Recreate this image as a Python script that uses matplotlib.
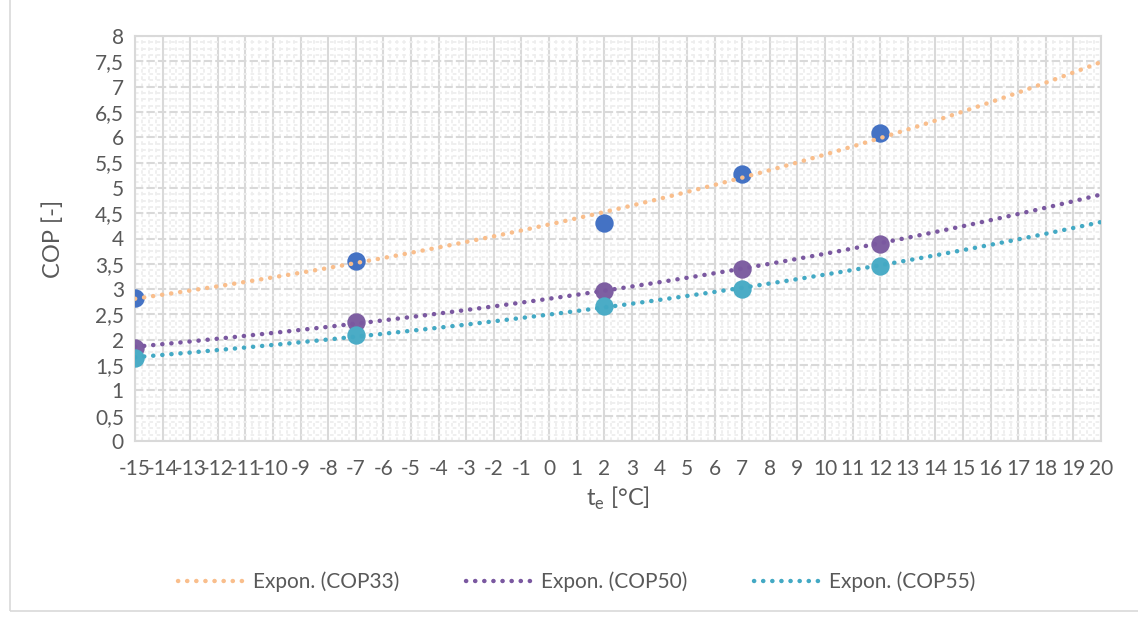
import numpy as np
import matplotlib
matplotlib.use('Agg')
import matplotlib.pyplot as plt
from matplotlib.ticker import MultipleLocator, FuncFormatter
from matplotlib.patches import Rectangle

plt.rcParams['font.family'] = ['Lato', 'DejaVu Sans']
plt.rcParams['axes.unicode_minus'] = False

# data
t_e = [-15, -7, 2, 7, 12]
cop33 = [2.83, 3.56, 4.30, 5.28, 6.08]
cop50 = [1.84, 2.36, 2.96, 3.40, 3.90]
cop55 = [1.63, 2.10, 2.66, 3.00, 3.46]
names = ['COP33', 'COP50', 'COP55']

point_cols = ['#4472C4', '#7E5FA2', '#4BACC6']
trend_cols = ['#F9BE8C', '#7A58A0', '#43A9C4']

fig = plt.figure(figsize=(11.38, 6.17), dpi=100)
ax = fig.add_axes([135/1138, 1-441/617, (1101-135)/1138, (441-36)/617])

xs = np.linspace(-15, 20, 200)
for ys, pc, tc, nm in zip([cop33, cop50, cop55], point_cols, trend_cols, names):
    ax.scatter(t_e, ys, s=175, color=pc, zorder=3, linewidths=0)
    # exponential trendline like excel: y = a*exp(b*x)
    b, ln_a = np.polyfit(t_e, np.log(ys), 1)
    ax.plot(xs, np.exp(ln_a) * np.exp(b * xs), color=tc, lw=3.2,
            linestyle=(0, (0.05, 2.0)), dash_capstyle='round', zorder=4,
            label='Expon. (' + nm + ')')

ax.set_xlim(-15, 20)
ax.set_ylim(0, 8)
ax.xaxis.set_major_locator(MultipleLocator(1))
ax.yaxis.set_major_locator(MultipleLocator(0.5))
ax.xaxis.set_minor_locator(MultipleLocator(0.25))
ax.yaxis.set_minor_locator(MultipleLocator(0.125))
ax.yaxis.set_major_formatter(FuncFormatter(lambda v, p: ('%g' % v).replace('.', ',')))

ax.grid(which='minor', color='#EEEEEE', lw=1.3, linestyle=(0, (2, 2)), zorder=0)
ax.grid(which='major', axis='x', color='#D9D9D9', lw=1.5, zorder=1)
ax.grid(which='major', axis='y', color='#D9D9D9', lw=1.5, linestyle=(0, (4, 1.5)), zorder=1)
ax.set_axisbelow(True)
for s in ax.spines.values():
    s.set_color('#D9D9D9')
    s.set_linewidth(1.5)

ax.tick_params(which='both', length=0, labelsize=15, labelcolor='#595959')
ax.tick_params(axis='x', pad=13)
ax.tick_params(axis='y', pad=8)

ax.set_xlabel('t$_\\mathregular{e}$ [°C]', fontsize=17, color='#595959', labelpad=4)
ax.set_ylabel('COP [-]', fontsize=17, color='#595959', labelpad=22)

fig.legend(loc='center', bbox_to_anchor=(0.507, 1-582/617), ncol=3, frameon=False,
           fontsize=15, labelcolor='#595959', handlelength=3.3, handletextpad=0.3,
           columnspacing=3.2)

fig.patches.append(Rectangle((10/1138, 6/617), 1.2, 1.2, transform=fig.transFigure,
                             fill=False, edgecolor='#D9D9D9', lw=1.2))

fig.savefig('out.png', dpi=100)
